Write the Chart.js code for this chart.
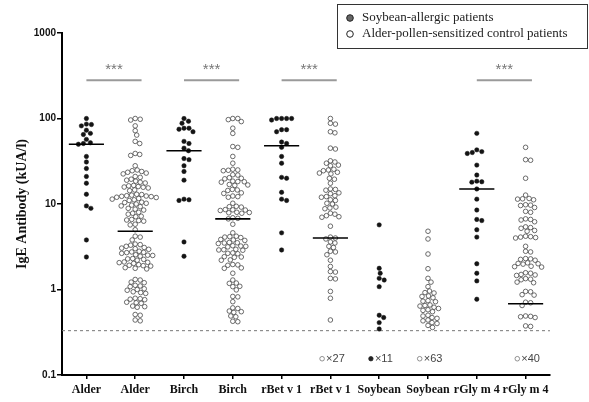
<!DOCTYPE html>
<html><head><meta charset="utf-8">
<script src="https://cdn.jsdelivr.net/npm/chart.js@4.4.0/dist/chart.umd.min.js"></script>
<style>html,body{margin:0;padding:0;background:#fff}canvas{display:block}</style>
</head><body>
<canvas id="c" width="589" height="402"></canvas>
<script>
// ---------- data ----------
const categories = ['Alder','Alder','Birch','Birch','rBet v 1','rBet v 1','Soybean','Soybean','rGly m 4','rGly m 4'];
const groupLabels = ['Soybean-allergic patients','Alder-pollen-sensitized control patients'];
const columnGroup = [0,1,0,1,0,1,0,1,0,1];
const yTickValues = [0.1, 1, 10, 100, 1000];
const yTickLabels = ['0.1','1','10','100','1000'];
const yTitle = 'IgE Antibody (kUA/l)';

const alderAllergic = [100, 86, 82, 85, 73, 67, 65, 52, 51, 50, 57, 36, 31, 26, 21, 17.5, 13, 8.9, 9.5, 3.8, 2.4];
const alderControl = [100, 98, 96, 82, 72, 64, 54, 51, 39, 38, 37, 28, 24.5, 24, 25, 23, 22.5, 23.5, 21, 20.5,
  19, 19.5, 18.5, 18, 17.6, 16, 16.3, 15.8, 16.5, 15.7, 15.4, 14.6, 14.3, 12.7, 12.9, 12.5, 13, 12.2, 12, 12.4,
  11.9, 12.3, 11.4, 11.6, 11.2, 11, 10.2, 10.4, 10, 10.5, 9.5, 9.7, 9.3, 8.7, 8.9, 8.5, 7.8, 8, 7.6, 7.1, 7.2,
  6.4, 6.5, 6.3, 6.6, 5.7, 5.8, 5.0, 4.1, 4.2, 3.8, 3.3, 3.4, 3.2, 3.35, 3.0, 3.05, 2.95, 3.1, 2.7, 2.75, 2.65,
  2.8, 2.72, 2.5, 2.45, 2.55, 2.52, 2.25, 2.3, 2.2, 2.28, 2.06, 2.1, 2.02, 2.08, 1.9, 1.92, 1.88, 1.95, 1.77,
  1.8, 1.74, 1.29, 1.31, 1.2, 1.22, 1.1, 1.12, 1.08, 1.0, 1.02, 0.98, 0.92, 0.9, 0.94, 0.77, 0.78, 0.76, 0.79,
  0.70, 0.71, 0.69, 0.63, 0.64, 0.62, 0.51, 0.5, 0.44, 0.43];
const birchAllergic = [100, 93, 88, 77, 75, 77, 70, 54, 51, 45, 42, 34, 33, 28, 24, 19, 11.4, 11, 11.2, 3.6, 2.45];
const birchControl = [100, 97, 100, 92, 77, 67, 47, 46, 36, 30, 25, 25.5, 24.5, 24.8, 21.8, 22, 20, 20.3, 19.7,
  18.2, 18.5, 18, 18.3, 16.7, 16.9, 16.5, 14.6, 14.8, 14.4, 13.3, 13.5, 12.2, 12.4, 12, 10.2, 9.3, 9.4, 9.2,
  8.5, 8.6, 8.4, 8.55, 7.9, 8, 7.8, 7.95, 6.8, 6.9, 6.7, 5.8, 4.6, 4.1, 4.15, 4.05, 4.2, 3.8, 3.85, 3.75, 3.5,
  3.55, 3.45, 3.52, 3.2, 3.25, 3.15, 3.22, 2.9, 2.95, 2.88, 2.92, 2.65, 2.68, 2.62, 2.4, 2.42, 2.38, 2.2, 2.22,
  1.94, 1.96, 1.92, 1.77, 1.79, 1.55, 1.29, 1.18, 1.19, 1.08, 1.09, 0.99, 0.82, 0.83, 0.72, 0.6, 0.61, 0.55,
  0.56, 0.54, 0.48, 0.49, 0.42, 0.425];
const rBetAllergic = [100, 100, 100, 100, 96, 74, 70, 74, 51, 53, 46, 36, 30, 20, 20.5, 13.7, 11, 11.4, 4.6, 2.9];
const rBetControl = [100, 88, 86, 70, 68, 45, 44, 32, 31, 30, 28.5, 28, 25, 24.5, 25.5, 23, 22.5, 23.5, 20, 19.5,
  17.5, 15, 14.8, 14.5, 13.5, 13.2, 12.2, 12, 12.5, 11.2, 11, 10, 10.2, 9, 9.2, 8.8, 7.8, 7.6, 7.1, 7.0, 7.3,
  5.5, 4.0, 4.1, 3.9, 3.6, 3.5, 3.2, 3.1, 2.8, 2.75, 2.55, 2.2, 1.86, 1.62, 1.6, 1.35, 1.33, 0.95, 0.79, 0.44];
const soyAllergic = [5.7, 1.77, 1.55, 1.35, 1.29, 1.08, 0.50, 0.47, 0.41, 0.345];
const soyControl = [4.8, 3.9, 2.6, 1.75, 1.35, 1.22, 1.08, 0.96, 0.92, 0.91, 0.84, 0.83, 0.8, 0.74, 0.73, 0.72,
  0.66, 0.65, 0.64, 0.62, 0.6, 0.58, 0.57, 0.55, 0.5, 0.49, 0.47, 0.46, 0.44, 0.43, 0.41, 0.4, 0.38, 0.36];
const rGlyAllergic = [67, 43, 41, 40, 39, 28.5, 21.8, 18.5, 18.2, 18, 15, 11.4, 8.5, 6.4, 6.6, 5.0, 4.1, 2.0, 1.55, 1.26, 0.77];
const rGlyControl = [46, 33, 32.5, 20, 12.7, 11.6, 11.4, 11.2, 11.5, 9.8, 9.7, 9.6, 9.1, 8.2, 8.0, 6.6, 6.5, 6.7,
  6.2, 5.3, 5.4, 5.2, 4.9, 4.8, 4.1, 4.2, 4.0, 4.15, 4.05, 3.2, 2.8, 2.75, 2.25, 2.3, 2.2, 2.28, 2.0, 2.05, 1.98,
  2.02, 1.85, 1.87, 1.83, 1.57, 1.55, 1.48, 1.5, 1.46, 1.32, 1.3, 1.34, 1.2, 1.22, 0.94, 0.95, 0.86, 0.87, 0.70,
  0.71, 0.65, 0.48, 0.49, 0.47, 0.485, 0.37, 0.375];

const medians = [50, 4.8, 42, 6.7, 48, 4.0, null, null, 15, 0.68];
const belowDetection = [null, null, null, null, null, 27, 11, 63, null, 40];
const belowDetectionLevel = 0.155;
const detectionLimit = 0.33;
const sigPairs = [[1, 2], [3, 4], [5, 6], [9, 10]];
const sigLabel = '***';
const sigLevel = 280;

const columns = [alderAllergic, alderControl, birchAllergic, birchControl, rBetAllergic, rBetControl,
  soyAllergic, soyControl, rGlyAllergic, rGlyControl];

// ---------- styles ----------
const C_FILL = '#141414', C_OPEN = '#5a5a5a';
const serif = '"Liberation Serif", "Times New Roman", serif';

function pts(g) {
  return columns.flatMap((vals, i) => columnGroup[i] === g ? vals.map(v => ({x: i + 1, y: v})) : []);
}

const datasets = [
  {type: 'scatter', label: groupLabels[0], data: pts(0), pointRadius: 2.2, pointBackgroundColor: C_FILL,
   pointBorderColor: C_FILL, pointBorderWidth: 0.5, order: 2},
  {type: 'scatter', label: groupLabels[1], data: pts(1), pointRadius: 2.3, pointBackgroundColor: 'rgba(255,255,255,0)',
   pointBorderColor: C_OPEN, pointBorderWidth: 0.9, order: 3}
];
medians.forEach((m, i) => {
  if (m == null) return;
  datasets.push({type: 'line', data: [{x: i + 1 - 0.36, y: m}, {x: i + 1 + 0.36, y: m}],
    borderColor: '#000', borderWidth: 1.6, pointRadius: 0, order: 1});
});
sigPairs.forEach(([a, b]) => {
  datasets.push({type: 'line', data: [{x: a, y: sigLevel}, {x: b + 0.13, y: sigLevel}],
    borderColor: '#9a9a9a', borderWidth: 2, pointRadius: 0, order: 1});
});
datasets.push({type: 'line', data: [{x: 0.5, y: detectionLimit}, {x: 10.5, y: detectionLimit}],
  borderColor: '#777', borderWidth: 1, borderDash: [3, 3], pointRadius: 0, order: 4});
[0, 1].forEach(g => {
  const d = [];
  belowDetection.forEach((n, i) => { if (n != null && columnGroup[i] === g) d.push({x: i + 1 - 0.17, y: belowDetectionLevel}); });
  datasets.push({type: 'scatter', data: d, pointRadius: g ? 2.3 : 2.2,
    pointBackgroundColor: g ? 'rgba(255,255,255,0)' : '#222', pointBorderColor: g ? '#777' : '#222',
    pointBorderWidth: 0.8, order: 1});
});

const annot = {
  id: 'annot',
  afterDatasetsDraw(chart) {
    const {ctx, scales: {x, y}} = chart;
    ctx.save();
    ctx.fillStyle = '#777';
    ctx.font = '15px "Liberation Sans", Arial, sans-serif';
    ctx.textAlign = 'center'; ctx.textBaseline = 'alphabetic';
    sigPairs.forEach(([a, b]) => {
      const cx = (x.getPixelForValue(a) + x.getPixelForValue(b + 0.13)) / 2;
      ctx.fillText(sigLabel, cx, y.getPixelForValue(sigLevel) - 6);
    });
    ctx.fillStyle = '#444';
    ctx.font = '11px "Liberation Sans", Arial, sans-serif';
    ctx.textAlign = 'left'; ctx.textBaseline = 'middle';
    belowDetection.forEach((n, i) => {
      if (n == null) return;
      ctx.fillText('\u00d7' + n, x.getPixelForValue(i + 1 - 0.17) + 4, y.getPixelForValue(belowDetectionLevel) + 0.5);
    });
    ctx.restore();
  },
  afterDraw(chart) {
    const ctx = chart.ctx;
    ctx.save();
    ctx.strokeStyle = '#333'; ctx.lineWidth = 1;
    ctx.strokeRect(337.5, 4.5, 250, 44);
    ctx.font = '13px ' + serif;
    ctx.textBaseline = 'middle'; ctx.textAlign = 'left';
    const rows = [18, 34];
    rows.forEach((ry, g) => {
      ctx.beginPath(); ctx.arc(350, ry, 3.3, 0, Math.PI * 2);
      ctx.fillStyle = g ? '#fff' : '#666'; ctx.fill();
      ctx.strokeStyle = '#222'; ctx.lineWidth = 1; ctx.stroke();
      ctx.fillStyle = '#222';
      ctx.fillText(groupLabels[g], 362, ry);
    });
    ctx.restore();
  }
};

const chart = new Chart(document.getElementById('c'), {
  data: {datasets},
  options: {
    responsive: false, animation: false, devicePixelRatio: 1,
    layout: {padding: {top: 33, right: 39, left: 0, bottom: 0}},
    plugins: {legend: {display: false}, tooltip: {enabled: false}},
    scales: {
      x: {
        type: 'linear', min: 0.5, max: 10.5,
        afterBuildTicks: s => { s.ticks = categories.map((_, i) => ({value: i + 1})); },
        afterFit: s => { s.height = 27; },
        ticks: {autoSkip: false, maxRotation: 0, padding: 4, color: '#111',
          font: {family: serif, size: 12, weight: 'bold'},
          callback: (v, i) => categories[i]},
        grid: {display: true, drawOnChartArea: false, drawTicks: true, tickLength: 4, color: '#000', lineWidth: 1.5},
        border: {display: true, color: '#000', width: 2}
      },
      y: {
        type: 'logarithmic', min: 0.1, max: 1000,
        afterBuildTicks: s => { s.ticks = yTickValues.map(v => ({value: v})); },
        afterFit: s => { s.width = 62; },
        ticks: {padding: 1, color: '#111', font: {family: '"Liberation Sans", Arial, sans-serif', size: 10, weight: 'bold'},
          callback: (v, i) => yTickLabels[i]},
        grid: {display: true, drawOnChartArea: false, drawTicks: true, tickLength: 5, color: '#000', lineWidth: 1.5},
        border: {display: true, color: '#000', width: 2},
        title: {display: true, text: yTitle, color: '#111', padding: {top: 14, bottom: 0},
          font: {family: serif, size: 14, weight: 'bold'}}
      }
    }
  },
  plugins: [annot]
});

// beeswarm placement computed from the library's scales
function swarm() {
  const xs = chart.scales.x, ys = chart.scales.y;
  const ppu = xs.getPixelForValue(2) - xs.getPixelForValue(1);
  [0, 1].forEach(g => {
    const minD = g === 0 ? 5.0 : 4.6;
    const out = [];
    columns.forEach((vals, i) => {
      if (columnGroup[i] !== g) return;
      const placed = [];
      vals.slice().sort((a, b) => b - a).forEach(v => {
        const py = ys.getPixelForValue(v);
        let off = 0;
        for (let k = 0; k < 400; k++) {
          const cand = (k % 2 === 1 ? 1 : -1) * Math.ceil(k / 2) * 0.5;
          let ok = true;
          for (const p of placed) {
            const dy = p.py - py, dx = p.px - cand;
            if (dx * dx + dy * dy < minD * minD) { ok = false; break; }
          }
          if (ok) { off = cand; break; }
        }
        placed.push({px: off, py});
        out.push({x: i + 1 + off / ppu, y: v});
      });
    });
    chart.data.datasets[g].data = out;
  });
  chart.update('none');
}
swarm();
</script>
</body></html>
